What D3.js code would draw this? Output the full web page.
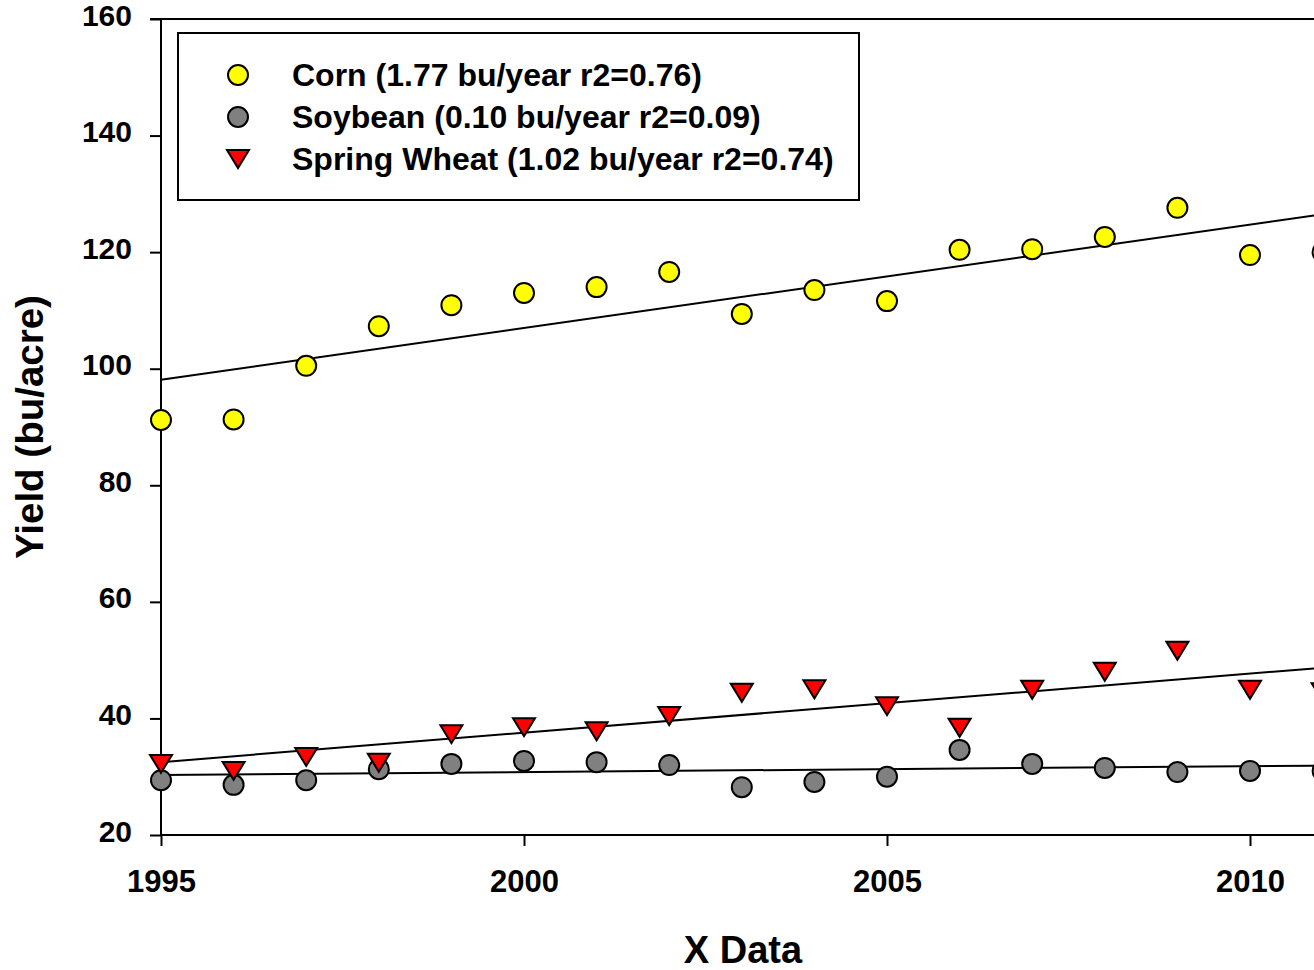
<!DOCTYPE html>
<meta charset="utf-8">
<script src="https://d3js.org/d3.v7.min.js"></script>
<style>
  body { margin: 0; background: #fff; }
  text { font-family: "Liberation Sans", Arial, sans-serif; font-weight: bold; fill: #000; }
</style>
<div id="my_dataviz"></div>
<script>

// data
var years = [1995, 1996, 1997, 1998, 1999, 2000, 2001, 2002, 2003, 2004, 2005, 2006, 2007, 2008, 2009, 2010, 2011];
var corn = [91.2, 91.3, 100.5, 107.3, 110.9, 113.0, 114.0, 116.6, 109.4, 113.5, 111.6, 120.4, 120.5, 122.6, 127.6, 119.5, 120.0];
var soybean = [29.4, 28.6, 29.4, 31.3, 32.2, 32.7, 32.5, 32.0, 28.2, 29.1, 30.0, 34.6, 32.2, 31.5, 30.8, 31.0, 31.0];
var wheat = [32.2, 31.0, 33.4, 32.4, 37.3, 38.5, 37.8, 40.4, 44.4, 45.0, 42.1, 38.4, 44.9, 48.0, 51.6, 44.9, 44.5];

// fitted lines, value at start and end year
var fitYears = [1995, 2011];
var cornFit = [98.1, 126.5];
var soybeanFit = [30.3, 31.9];
var wheatFit = [32.5, 48.7];

var legendLabels = ["Corn (1.77 bu/year r2=0.76)", "Soybean (0.10 bu/year r2=0.09)", "Spring Wheat (1.02 bu/year r2=0.74)"];
var xTicks = [1995, 2000, 2005, 2010];
var yTicks = [20, 40, 60, 80, 100, 120, 140, 160];

var width = 1314, height = 970;

var svg = d3.select("#my_dataviz")
  .append("svg")
    .attr("width", width)
    .attr("height", height);

var x = d3.scaleLinear()
  .domain([1995, 2010])
  .range([161, 1250]);

var y = d3.scaleLinear()
  .domain([20, 160])
  .range([835, 19]);

// top frame line
svg.append("line")
  .attr("x1", 150).attr("x2", width)
  .attr("y1", y(160)).attr("y2", y(160))
  .attr("stroke", "#000").attr("stroke-width", 2);

// axes
var xAxis = svg.append("g")
  .attr("transform", "translate(0," + y(20) + ")")
  .call(d3.axisBottom(x).tickValues(xTicks).tickFormat(d3.format("d")).tickSize(11).tickPadding(24));
xAxis.select(".domain").attr("d", "M161,0H" + width);

var yAxis = svg.append("g")
  .attr("transform", "translate(" + x(1995) + ",0)")
  .call(d3.axisLeft(y).tickValues(yTicks).tickSize(11).tickPadding(18));
yAxis.select(".domain").attr("d", "M0," + y(160) + "V" + y(20));

svg.selectAll(".domain, .tick line").attr("stroke", "#000").attr("stroke-width", 2);
xAxis.selectAll("text").style("font-size", "31px").attr("fill", "#000");
yAxis.selectAll("text").style("font-size", "30px").attr("fill", "#000").attr("dy", "0.2em");

// axis titles
svg.append("text")
  .attr("x", 743).attr("y", 963)
  .attr("text-anchor", "middle")
  .style("font-size", "38px")
  .text("X Data");

svg.append("text")
  .attr("transform", "translate(43,427) rotate(-90)")
  .attr("text-anchor", "middle")
  .style("font-size", "38.5px")
  .text("Yield (bu/acre)");

// regression lines
var line = d3.line()
  .x(function(d) { return x(d[0]); })
  .y(function(d) { return y(d[1]); });

[cornFit, soybeanFit, wheatFit].forEach(function(fit) {
  svg.append("path")
    .datum(fitYears.map(function(yr, i) { return [yr, fit[i]]; }))
    .attr("d", line)
    .attr("fill", "none")
    .attr("stroke", "#000")
    .attr("stroke-width", 2);
});

var tri = "M-11,-9L11,-9L0,9Z";

// markers
svg.append("g").selectAll("circle")
  .data(years.map(function(yr, i) { return [yr, corn[i]]; }))
  .enter().append("circle")
    .attr("cx", function(d) { return x(d[0]); })
    .attr("cy", function(d) { return y(d[1]); })
    .attr("r", 10)
    .attr("fill", "#ffff00").attr("stroke", "#000").attr("stroke-width", 2);

svg.append("g").selectAll("circle")
  .data(years.map(function(yr, i) { return [yr, soybean[i]]; }))
  .enter().append("circle")
    .attr("cx", function(d) { return x(d[0]); })
    .attr("cy", function(d) { return y(d[1]); })
    .attr("r", 10)
    .attr("fill", "#808080").attr("stroke", "#000").attr("stroke-width", 2);

svg.append("g").selectAll("path")
  .data(years.map(function(yr, i) { return [yr, wheat[i]]; }))
  .enter().append("path")
    .attr("transform", function(d) { return "translate(" + x(d[0]) + "," + y(d[1]) + ")"; })
    .attr("d", tri)
    .attr("fill", "#ff0000").attr("stroke", "#000").attr("stroke-width", 2).attr("stroke-linejoin", "miter");

// legend
var legend = svg.append("g");
legend.append("rect")
  .attr("x", 178).attr("y", 33)
  .attr("width", 681).attr("height", 167)
  .attr("fill", "#fff").attr("stroke", "#000").attr("stroke-width", 2);

var fills = ["#ffff00", "#808080", "#ff0000"];
legendLabels.forEach(function(lab, i) {
  var cy = 75 + i * 42;
  if (i < 2) {
    legend.append("circle")
      .attr("cx", 238).attr("cy", cy).attr("r", 10)
      .attr("fill", fills[i]).attr("stroke", "#000").attr("stroke-width", 2);
  } else {
    legend.append("path")
      .attr("transform", "translate(238," + cy + ")")
      .attr("d", tri)
      .attr("fill", fills[i]).attr("stroke", "#000").attr("stroke-width", 2);
  }
  legend.append("text")
    .attr("x", 292).attr("y", cy + 11)
    .style("font-size", "32px")
    .text(lab);
});

</script>
